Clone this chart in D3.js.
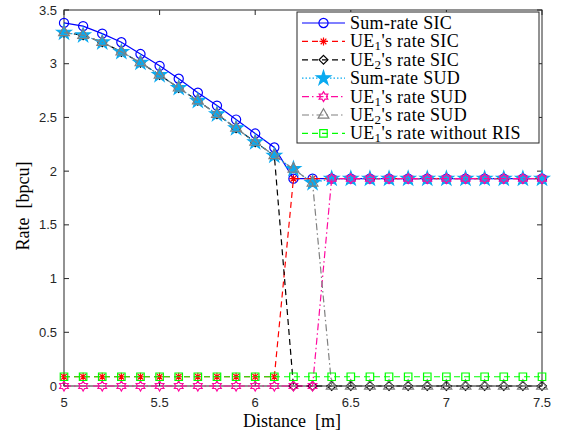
<!DOCTYPE html>
<html>
<head>
<meta charset="utf-8">
<script src="https://cdn.jsdelivr.net/npm/d3@7"></script>
<style>
  body { margin: 0; background: #fff; }
  svg { display: block; }
</style>
</head>
<body>
<div id="chart"></div>
<script>
// distance [m]
var distance = [5.0, 5.1, 5.2, 5.3, 5.4, 5.5, 5.6, 5.7, 5.8, 5.9, 6.0, 6.1, 6.2,
                6.3, 6.4, 6.5, 6.6, 6.7, 6.8, 6.9, 7.0, 7.1, 7.2, 7.3, 7.4, 7.5];

var sumSIC   = [3.38, 3.35, 3.28, 3.20, 3.09, 2.98, 2.86, 2.73, 2.61, 2.48, 2.35, 2.22, 1.93,
                1.93, 1.93, 1.93, 1.93, 1.93, 1.93, 1.93, 1.93, 1.93, 1.93, 1.93, 1.93, 1.93];
var ue1SIC   = [0.086, 0.086, 0.086, 0.086, 0.086, 0.086, 0.086, 0.086, 0.086, 0.086, 0.086, 0.086, 1.93,
                1.93, 1.93, 1.93, 1.93, 1.93, 1.93, 1.93, 1.93, 1.93, 1.93, 1.93, 1.93, 1.93];
var ue2SIC   = [3.29, 3.265, 3.20, 3.11, 3.01, 2.895, 2.775, 2.655, 2.53, 2.40, 2.27, 2.145, 0,
                0, 0, 0, 0, 0, 0, 0, 0, 0, 0, 0, 0, 0];
var sumSUD   = [3.29, 3.265, 3.20, 3.11, 3.01, 2.895, 2.775, 2.655, 2.53, 2.40, 2.27, 2.145, 2.02,
                1.89, 1.93, 1.93, 1.93, 1.93, 1.93, 1.93, 1.93, 1.93, 1.93, 1.93, 1.93, 1.93];
var ue1SUD   = [0, 0, 0, 0, 0, 0, 0, 0, 0, 0, 0, 0, 0,
                0, 1.93, 1.93, 1.93, 1.93, 1.93, 1.93, 1.93, 1.93, 1.93, 1.93, 1.93, 1.93];
var ue2SUD   = [3.29, 3.265, 3.20, 3.11, 3.01, 2.895, 2.775, 2.655, 2.53, 2.40, 2.27, 2.145, 2.02,
                1.89, 0, 0, 0, 0, 0, 0, 0, 0, 0, 0, 0, 0];
var ue1NoRIS = [0.086, 0.086, 0.086, 0.086, 0.086, 0.086, 0.086, 0.086, 0.086, 0.086, 0.086, 0.086, 0.086,
                0.086, 0.086, 0.086, 0.086, 0.086, 0.086, 0.086, 0.086, 0.086, 0.086, 0.086, 0.086, 0.086];

var xTicks = [5, 5.5, 6, 6.5, 7, 7.5];
var yTicks = [0, 0.5, 1, 1.5, 2, 2.5, 3, 3.5];

var width = 563, height = 435;
var mLeft = 64, mRight = 542, mTop = 10, mBottom = 386;

var svg = d3.select('#chart')
  .append('svg')
  .attr('width', width)
  .attr('height', height);

var x = d3.scaleLinear().domain([5, 7.5]).range([mLeft, mRight]);
var y = d3.scaleLinear().domain([0, 3.5]).range([mBottom, mTop]);

// marker shapes
function asterisk(r) {
  var d = r * 0.707;
  return `M${-r},0L${r},0M0,${-r}L0,${r}M${-d},${-d}L${d},${d}M${-d},${d}L${d},${-d}`;
}
function hexagram(r) {
  var pts = [];
  for (var k = 0; k < 12; k++) {
    var a = k * Math.PI / 6 - Math.PI / 2;
    var rr = k % 2 === 0 ? r : r * 0.577;
    pts.push([rr * Math.cos(a), rr * Math.sin(a)]);
  }
  return 'M' + pts.map(p => p[0].toFixed(2) + ',' + p[1].toFixed(2)).join('L') + 'Z';
}

var series = [
  { name: 'Sum-rate SIC', values: sumSIC, color: '#0000ff', dash: null,
    marker: d3.symbol().type(d3.symbolCircle).size(66)(), fill: 'none' },
  { name: "UE1's rate SIC", values: ue1SIC, color: '#ff0000', dash: '6,4',
    marker: asterisk(4), fill: 'none' },
  { name: "UE2's rate SIC", values: ue2SIC, color: '#000000', dash: '6,4',
    marker: d3.symbol().type(d3.symbolDiamond2).size(50)(), fill: 'none' },
  { name: 'Sum-rate SUD', values: sumSUD, color: '#0aaaf0', dash: '1.5,2',
    marker: d3.symbol().type(d3.symbolStar).size(64)(), fill: '#0aaaf0' },
  { name: "UE1's rate SUD", values: ue1SUD, color: '#ff0aa0', dash: '7,3,1.5,3',
    marker: hexagram(5), fill: 'none' },
  { name: "UE2's rate SUD", values: ue2SUD, color: '#808080', dash: '7,3,1.5,3',
    marker: d3.symbol().type(d3.symbolTriangle).size(50)(), fill: 'none' },
  { name: "UE1's rate without RIS", values: ue1NoRIS, color: '#00ff00', dash: '6,4',
    marker: d3.symbol().type(d3.symbolSquare).size(56)(), fill: 'none' }
];

var axisColor = '#262626';

// frame
svg.append('rect')
  .attr('x', mLeft).attr('y', mTop)
  .attr('width', mRight - mLeft).attr('height', mBottom - mTop)
  .attr('fill', 'none').attr('stroke', axisColor).attr('stroke-width', 1);

var tickLen = 5;
var axes = svg.append('g').attr('stroke', axisColor).attr('stroke-width', 1);
xTicks.forEach(t => {
  axes.append('line').attr('x1', x(t)).attr('x2', x(t)).attr('y1', mBottom).attr('y2', mBottom - tickLen);
  axes.append('line').attr('x1', x(t)).attr('x2', x(t)).attr('y1', mTop).attr('y2', mTop + tickLen);
});
yTicks.forEach(t => {
  axes.append('line').attr('y1', y(t)).attr('y2', y(t)).attr('x1', mLeft).attr('x2', mLeft + tickLen);
  axes.append('line').attr('y1', y(t)).attr('y2', y(t)).attr('x1', mRight).attr('x2', mRight - tickLen);
});

svg.append('g').selectAll('text')
  .data(xTicks).enter()
  .append('text')
  .attr('x', d => x(d)).attr('y', mBottom + 21)
  .attr('text-anchor', 'middle')
  .style('font-family', 'Liberation Sans, Arial, sans-serif')
  .style('font-size', '13px')
  .attr('fill', axisColor)
  .text(d => d);

svg.append('g').selectAll('text')
  .data(yTicks).enter()
  .append('text')
  .attr('x', mLeft - 7).attr('y', d => y(d) + 4.5)
  .attr('text-anchor', 'end')
  .style('font-family', 'Liberation Sans, Arial, sans-serif')
  .style('font-size', '13px')
  .attr('fill', axisColor)
  .text(d => d);

svg.append('text')
  .attr('x', 292).attr('y', 427)
  .attr('text-anchor', 'middle')
  .style('font-family', 'Liberation Serif, Times New Roman, serif')
  .style('font-size', '18px')
  .style('white-space', 'pre')
  .text('Distance  [m]');

svg.append('text')
  .attr('transform', `translate(29, 206) rotate(-90)`)
  .attr('text-anchor', 'middle')
  .style('font-family', 'Liberation Serif, Times New Roman, serif')
  .style('font-size', '18px')
  .style('white-space', 'pre')
  .text('Rate  [bpcu]');

// lines and markers
var line = d3.line()
  .x((d, i) => x(distance[i]))
  .y(d => y(d));

series.forEach(s => {
  var g = svg.append('g');
  g.append('path')
    .attr('d', line(s.values))
    .attr('fill', 'none')
    .attr('stroke', s.color)
    .attr('stroke-width', 1.2)
    .attr('stroke-dasharray', s.dash);
  g.selectAll('path.m')
    .data(s.values).enter()
    .append('path')
    .attr('class', 'm')
    .attr('d', s.marker)
    .attr('transform', (d, i) => `translate(${x(distance[i])}, ${y(d)})`)
    .attr('fill', s.fill)
    .attr('stroke', s.color)
    .attr('stroke-width', 1.2);
});

// legend
var lgX = 297, lgY = 12, lgW = 242, lgH = 131, rowH = 18.4;
svg.append('rect')
  .attr('x', lgX).attr('y', lgY).attr('width', lgW).attr('height', lgH)
  .attr('fill', '#fff').attr('stroke', axisColor).attr('stroke-width', 1);

series.forEach((s, i) => {
  var cy = lgY + 11 + i * rowH;
  var g = svg.append('g');
  g.append('line')
    .attr('x1', 302).attr('x2', 345).attr('y1', cy).attr('y2', cy)
    .attr('stroke', s.color).attr('stroke-width', 1.2)
    .attr('stroke-dasharray', s.dash);
  g.append('path')
    .attr('d', s.marker)
    .attr('transform', `translate(323.5, ${cy})`)
    .attr('fill', s.fill).attr('stroke', s.color).attr('stroke-width', 1.2);
  var t = g.append('text')
    .attr('x', 350).attr('y', cy + 6)
    .style('font-family', 'Liberation Serif, Times New Roman, serif')
    .style('font-size', '18px')
    .style('letter-spacing', '0.3px');
  var m = s.name.match(/^UE(\d)(.*)$/);
  if (m) {
    t.append('tspan').text('UE');
    t.append('tspan').attr('dy', 3).style('font-size', '13px').text(m[1]);
    t.append('tspan').attr('dy', -3).text(m[2]);
  } else {
    t.text(s.name);
  }
});
</script>
</body>
</html>
